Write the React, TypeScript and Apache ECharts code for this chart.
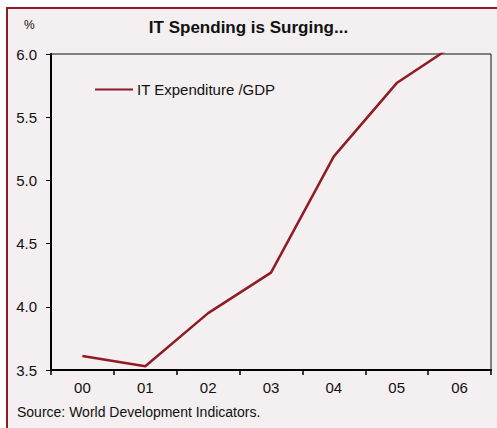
import React, { useEffect, useRef } from "react";
import * as echarts from "echarts";

const categories = ["00", "01", "02", "03", "04", "05", "06"];
const itSpending = [3.61, 3.53, 3.95, 4.27, 5.19, 5.77, 6.1];
const yMin = 3.5;
const yMax = 6.0;
const yInterval = 0.5;

const title = "IT Spending is Surging...";
const seriesName = "IT Expenditure /GDP";
const sourceText = "Source: World Development Indicators.";
const unitText = "%";

const RED = "#8f1b24";
const BG = "#f4eff0";
const FONT = "'Liberation Sans', Arial, sans-serif";

export default function App() {
  const ref = useRef<HTMLDivElement>(null);
  useEffect(() => {
    if (!ref.current) return;
    const chart = echarts.init(ref.current, undefined, { renderer: "svg" });
    chart.setOption({
      animation: false,
      backgroundColor: "#ffffff",
      textStyle: { fontFamily: FONT },
      graphic: [
        {
          type: "rect",
          z: -10,
          silent: true,
          shape: { x: 7, y: 8, width: 520, height: 440 },
          style: { fill: BG, stroke: RED, lineWidth: 2 },
        },
        {
          type: "text",
          left: 24,
          top: 19,
          style: { text: unitText, fontSize: 12, fill: "#111", fontFamily: FONT },
        },
        {
          type: "text",
          left: 17,
          top: 405,
          style: { text: sourceText, fontSize: 14, fill: "#111", fontFamily: FONT },
        },
      ],
      title: {
        text: title,
        left: "center",
        top: 19,
        textStyle: { fontSize: 17, fontWeight: "bold", color: "#111", fontFamily: FONT },
        padding: 0,
      },
      legend: {
        left: 95,
        top: 82,
        icon: "rect",
        itemWidth: 38,
        itemHeight: 2,
        itemGap: 5,
        padding: 0,
        textStyle: { fontSize: 15, color: "#111", fontFamily: FONT, padding: [0, 0, 0, -1] },
        data: [seriesName],
      },
      grid: {
        left: 51,
        right: 6,
        top: 54,
        bottom: 58,
        show: true,
        borderColor: "#111",
        borderWidth: 1,
        backgroundColor: "transparent",
      },
      xAxis: {
        type: "category",
        data: categories,
        boundaryGap: true,
        axisLine: { lineStyle: { color: "#000", width: 2 } },
        axisTick: { show: true, length: 5, inside: false, lineStyle: { color: "#000", width: 1.5 } },
        axisLabel: { fontSize: 15, color: "#111", margin: 10 },
        splitLine: { show: false },
      },
      yAxis: {
        type: "value",
        min: yMin,
        max: yMax,
        interval: yInterval,
        axisLine: { show: true, lineStyle: { color: "#000", width: 2 } },
        axisTick: { show: true, length: 5, lineStyle: { color: "#000", width: 1 } },
        axisLabel: {
          fontSize: 15,
          color: "#111",
          margin: 14,
          formatter: (v: number) => v.toFixed(1),
        },
        splitLine: { show: false },
      },
      series: [
        {
          name: seriesName,
          type: "line",
          data: itSpending,
          showSymbol: false,
          symbol: "none",
          clip: true,
          lineStyle: { color: RED, width: 2.5 },
          itemStyle: { color: RED },
        },
      ],
    });
    return () => chart.dispose();
  }, []);
  return (
    <div
      ref={ref}
      style={{ position: "absolute", left: 0, top: 0, width: 497, height: 428 }}
    />
  );
}
